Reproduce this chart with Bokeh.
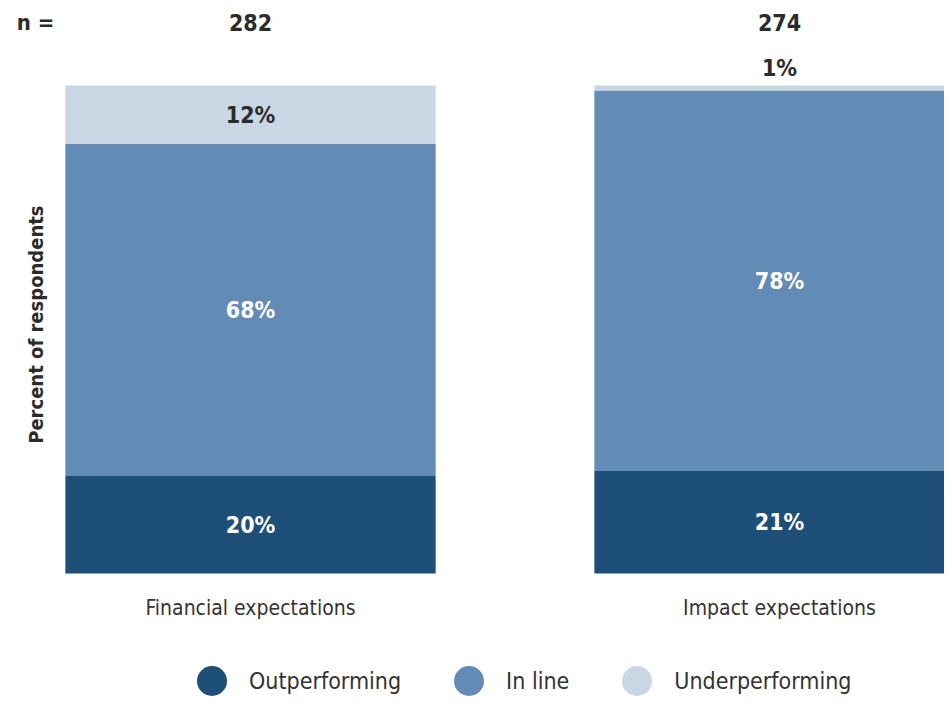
import math
from bokeh.plotting import figure
from bokeh.models import ColumnDataSource, Range1d, Label, Legend, LegendItem
from bokeh.core.properties import value
from bokeh.embed import file_html
from bokeh.resources import INLINE

# ---- data ----
categories = ["Financial expectations", "Impact expectations"]
n_values = [282, 274]
series_names = ["Outperforming", "In line", "Underperforming"]
outperforming = [20, 21]
in_line = [68, 78]
underperforming = [12, 1]

# ---- style ----
FONT = "DejaVu Sans Condensed, sans-serif"
colors = ["#1e4f79", "#628cb5", "#c9d6e4"]
text_colors = ["#ffffff", "#ffffff", "#2b2b2b"]
DARK = "#2b2b2b"

xs = list(range(len(categories)))
series = [outperforming, in_line, underperforming]
keys = ["out", "inl", "und"]

src = ColumnDataSource(dict(x=xs, cat=categories, n=[str(v) for v in n_values],
                            **{k: s for k, s in zip(keys, series)}))

p = figure(width=944, height=698, output_backend="svg", toolbar_location=None,
           x_axis_location=None, y_axis_location=None, min_border=0,
           x_range=Range1d(-0.4726, 1.3119), y_range=Range1d(-25.61, 117.42))
p.grid.visible = False
p.outline_line_color = None
p.background_fill_color = "white"

p.vbar_stack(keys, x="x", width=0.7, source=src, color=colors, line_color=None)

# segment labels
lx, ly, lt, lc = [], [], [], []
for i in xs:
    base = 0
    for si, s in enumerate(series):
        v = s[i]
        lx.append(i)
        if v >= 5:
            ly.append(base + v / 2)
            lc.append(text_colors[si])
        else:
            ly.append(base + v + 3.5)
            lc.append(DARK)
        lt.append(f"{v}%")
        base += v
p.text(x=lx, y=ly, text=lt, text_color=lc, text_font=value(FONT), text_font_style="bold",
       text_font_size="23px", text_align="center", text_baseline="middle")

# n row
N_ROW_Y = 113
p.text(x="x", y=N_ROW_Y, text="n", source=src, text_color=DARK, text_font=value(FONT),
       text_font_style="bold", text_font_size="23px", text_align="center", text_baseline="middle")
p.add_layout(Label(x=35, y=N_ROW_Y, x_units="screen", text="n =", text_color=DARK,
                   text_font=FONT, text_font_style="bold", text_font_size="22px",
                   text_align="center", text_baseline="middle"))

# category labels
p.text(x="x", y=-7, text="cat", source=src, text_color="#333333", text_font=value(FONT),
       text_font_size="21px", text_align="center", text_baseline="middle")

# y axis title
p.add_layout(Label(x=35, y=51, x_units="screen", text="Percent of respondents", angle=math.pi / 2,
                   text_color=DARK, text_font=FONT, text_font_style="bold", text_font_size="20px",
                   text_align="center", text_baseline="middle"))

# legend
nan = float("nan")
items = []
for name, c in zip(series_names, colors):
    r = p.scatter(x=[nan], y=[nan], size=30, marker="circle", fill_color=c, line_color=None)
    items.append(LegendItem(label=name, renderers=[r]))
legend = Legend(items=items, orientation="horizontal", location=(174, -20),
                glyph_width=75, glyph_height=75, label_standoff=0, spacing=30,
                padding=0, margin=0, border_line_color=None, background_fill_alpha=0,
                label_text_font=FONT, label_text_font_size="23px", label_text_color="#333333")
p.add_layout(legend)

open("out.html", "w").write(file_html(p, INLINE))
